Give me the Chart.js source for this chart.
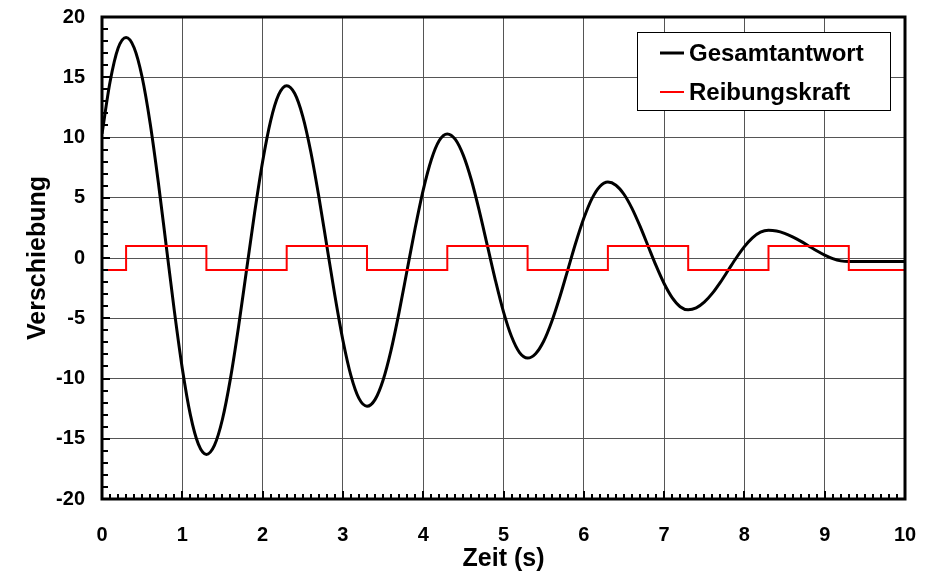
<!DOCTYPE html>
<html>
<head>
<meta charset="utf-8">
<script src="https://cdn.jsdelivr.net/npm/chart.js@4.4.1/dist/chart.umd.min.js"></script>
<style>
  body { margin: 0; background: #fff; }
  #wrap { width: 933px; height: 574px; }
</style>
</head>
<body>
<div id="wrap"><canvas id="myChart" width="933" height="574"></canvas></div>
<script>
// values
var timeValues = [
  0, 0.1, 0.2, 0.3, 0.4, 0.5, 0.6, 0.7, 0.8, 0.9,
  1, 1.1, 1.2, 1.3, 1.4, 1.5, 1.6, 1.7, 1.8, 1.9,
  2, 2.1, 2.2, 2.3, 2.4, 2.5, 2.6, 2.7, 2.8, 2.9,
  3, 3.1, 3.2, 3.3, 3.4, 3.5, 3.6, 3.7, 3.8, 3.9,
  4, 4.1, 4.2, 4.3, 4.4, 4.5, 4.6, 4.7, 4.8, 4.9,
  5, 5.1, 5.2, 5.3, 5.4, 5.5, 5.6, 5.7, 5.8, 5.9,
  6, 6.1, 6.2, 6.3, 6.4, 6.5, 6.6, 6.7, 6.8, 6.9,
  7, 7.1, 7.2, 7.3, 7.4, 7.5, 7.6, 7.7, 7.8, 7.9,
  8, 8.1, 8.2, 8.3, 8.4, 8.5, 8.6, 8.7, 8.8, 8.9,
  9, 9.1, 9.2, 9.3, 9.4, 9.5, 9.6, 9.7, 9.8, 9.9,
  10
];
var responseValues = [
  10.3, 14.6, 17.4, 18.3, 17.45, 15.0, 11.17, 6.35, 1.0, -4.35,
  -9.17, -13.0, -15.45, -16.3, -15.55, -13.38, -9.99, -5.73, -1.0, 3.73,
  7.99, 11.38, 13.55, 14.3, 13.65, 11.76, 8.82, 5.11, 1.0, -3.11,
  -6.82, -9.76, -11.65, -12.3, -11.75, -10.14, -7.64, -4.49, -1.0, 2.49,
  5.64, 8.14, 9.75, 10.3, 9.85, 8.52, 6.47, 3.87, 1.0, -1.87,
  -4.47, -6.52, -7.85, -8.3, -7.94, -6.91, -5.29, -3.26, -1.0, 1.26,
  3.29, 4.91, 5.94, 6.3, 6.04, 5.29, 4.12, 2.64, 1.0, -0.64,
  -2.12, -3.29, -4.04, -4.3, -4.14, -3.67, -2.94, -2.02, -1.0, 0.02,
  0.94, 1.67, 2.14, 2.3, 2.24, 2.05, 1.76, 1.4, 1.0, 0.6,
  0.24, -0.05, -0.24, -0.3, -0.3, -0.3, -0.3, -0.3, -0.3, -0.3,
  -0.3
];
var switchTimes = [0, 0.3, 1.3, 2.3, 3.3, 4.3, 5.3, 6.3, 7.3, 8.3, 9.3, 10];
var frictionValues = [-1, 1, -1, 1, -1, 1, -1, 1, -1, 1, -1, -1];

var xTicks = [0, 1, 2, 3, 4, 5, 6, 7, 8, 9, 10];
var yTicks = [-20, -15, -10, -5, 0, 5, 10, 15, 20];
var seriesNames = ['Gesamtantwort', 'Reibungskraft'];

var FONT = "'Liberation Sans', Arial, Helvetica, sans-serif";

function toPoints(xs, ys) {
  var out = [];
  for (var i = 0; i < xs.length; i++) out.push({ x: xs[i], y: ys[i] });
  return out;
}

/* frame, minor ticks and the legend box */
var decorations = {
  id: 'decorations',
  afterDraw: function (chart) {
    var ctx = chart.ctx;
    var a = chart.chartArea;
    var xs = chart.scales.x;
    var ys = chart.scales.y;
    ctx.save();
    ctx.strokeStyle = '#000';
    ctx.lineWidth = 2;
    // x minor ticks every 0.1
    for (var i = 1; i < 100; i++) {
      var px = Math.round(xs.getPixelForValue(i / 10));
      var len = (i % 10 === 0) ? 8 : 5;
      ctx.beginPath();
      ctx.moveTo(px, a.bottom);
      ctx.lineTo(px, a.bottom - len);
      ctx.stroke();
    }
    // y minor ticks every 1
    for (var v = -19; v < 20; v++) {
      var py = Math.round(ys.getPixelForValue(v));
      var l2 = (v % 5 === 0) ? 8 : 6;
      ctx.beginPath();
      ctx.moveTo(a.left, py);
      ctx.lineTo(a.left + l2, py);
      ctx.stroke();
    }
    // frame
    ctx.lineWidth = 3;
    ctx.strokeRect(a.left, a.top, a.right - a.left, a.bottom - a.top);

    // legend
    var bx = 637, by = 32, bw = 253, bh = 78;
    ctx.fillStyle = '#fff';
    ctx.fillRect(bx, by, bw, bh);
    ctx.lineWidth = 1;
    ctx.strokeStyle = '#000';
    ctx.strokeRect(bx + 0.5, by + 0.5, bw, bh);
    var colors = ['#000', '#ff0000'];
    var widths = [3, 2];
    var rows = [53, 92];
    ctx.font = 'bold 24px ' + FONT;
    ctx.textBaseline = 'middle';
    ctx.textAlign = 'left';
    for (var k = 0; k < 2; k++) {
      ctx.strokeStyle = colors[k];
      ctx.lineWidth = widths[k];
      ctx.beginPath();
      ctx.moveTo(660, rows[k]);
      ctx.lineTo(684, rows[k]);
      ctx.stroke();
      ctx.fillStyle = '#000';
      ctx.fillText(seriesNames[k], 689, rows[k] + 1);
    }
    ctx.restore();
  }
};

var ctx = document.getElementById('myChart').getContext('2d');
var chart = new Chart(ctx, {
  type: 'line',
  data: {
    datasets: [
      {
        label: seriesNames[0],
        data: toPoints(timeValues, responseValues),
        borderColor: '#000',
        borderWidth: 3,
        pointRadius: 0,
        cubicInterpolationMode: 'monotone',
        fill: false,
        order: 1
      },
      {
        label: seriesNames[1],
        data: toPoints(switchTimes, frictionValues),
        borderColor: '#ff0000',
        borderWidth: 2,
        pointRadius: 0,
        stepped: 'before',
        fill: false,
        order: 0
      }
    ]
  },
  options: {
    responsive: false,
    animation: false,
    events: [],
    layout: { padding: { top: 17, right: 28, bottom: 0, left: 0 } },
    plugins: {
      legend: { display: false },
      tooltip: { enabled: false }
    },
    scales: {
      x: {
        type: 'linear',
        min: 0,
        max: 10,
        afterBuildTicks: function (scale) {
          scale.ticks = xTicks.map(function (v) { return { value: v }; });
        },
        afterFit: function (scale) {
          scale.height = 75;
          scale.paddingLeft = 0;
          scale.paddingRight = 0;
        },
        grid: { color: '#555', lineWidth: 1, drawTicks: false },
        border: { display: false },
        ticks: {
          padding: 24,
          color: '#000',
          maxRotation: 0,
          autoSkip: false,
          font: { family: FONT, size: 20, weight: 'bold' }
        },
        title: {
          display: true,
          text: 'Zeit (s)',
          color: '#000',
          padding: { top: 0, bottom: 0 },
          font: { family: FONT, size: 25, weight: 'bold' }
        }
      },
      y: {
        type: 'linear',
        min: -20,
        max: 20,
        afterBuildTicks: function (scale) {
          scale.ticks = yTicks.map(function (v) { return { value: v }; });
        },
        afterFit: function (scale) {
          scale.width = 102;
          scale.paddingTop = 0;
          scale.paddingBottom = 0;
        },
        grid: { color: '#555', lineWidth: 1, drawTicks: false },
        border: { display: false },
        ticks: {
          padding: 17,
          color: '#000',
          autoSkip: false,
          font: { family: FONT, size: 20, weight: 'bold' }
        },
        title: {
          display: true,
          text: 'Verschiebung',
          color: '#000',
          padding: { top: 23, bottom: 0 },
          font: { family: FONT, size: 25, weight: 'bold' }
        }
      }
    }
  },
  plugins: [decorations]
});
</script>
</body>
</html>
